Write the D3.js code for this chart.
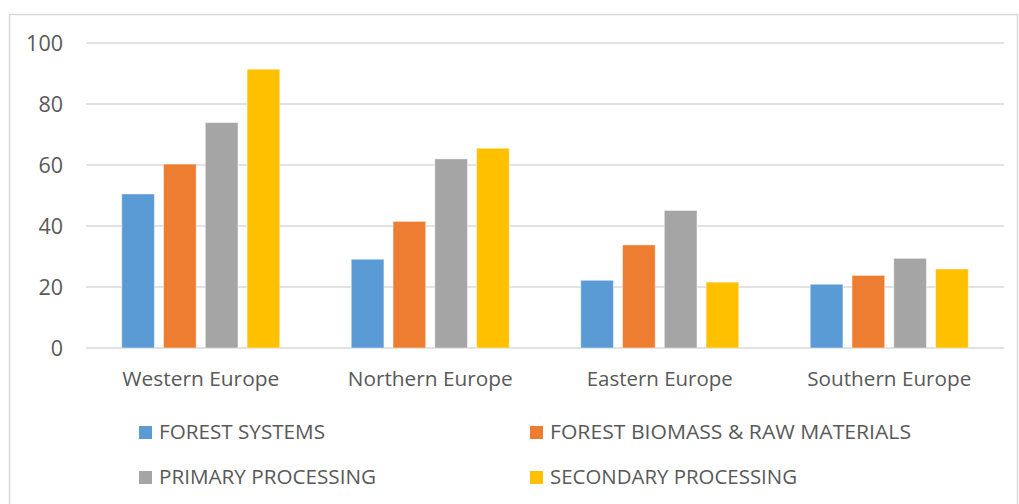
<!DOCTYPE html>
<html>
<head>
<meta charset="utf-8">
<script src="https://cdn.jsdelivr.net/npm/d3@7"></script>
<style>
  html, body { margin: 0; padding: 0; background: #fff; }
  svg { display: block; }
  text { font-family: "Open Sans", "Noto Sans", sans-serif; fill: #595959; }
</style>
</head>
<body>
<svg id="chart" width="1019" height="504"></svg>
<script>
// Regions along the x axis
const regions = ["Western Europe", "Northern Europe", "Eastern Europe", "Southern Europe"];

// Series names (legend order) and colours
const seriesNames = ["FOREST SYSTEMS", "FOREST BIOMASS & RAW MATERIALS", "PRIMARY PROCESSING", "SECONDARY PROCESSING"];
const seriesColors = ["#5B9BD5", "#ED7D31", "#A5A5A5", "#FFC000"];

// Values per series, one entry per region
const forestSystems = [50.5, 29.1, 22.2, 20.9];
const forestBiomass = [60.3, 41.5, 33.8, 23.8];
const primaryProcessing = [73.9, 62.0, 45.1, 29.4];
const secondaryProcessing = [91.4, 65.5, 21.6, 25.9];

// Y axis ticks
const yTicks = [0, 20, 40, 60, 80, 100];

const seriesValues = [forestSystems, forestBiomass, primaryProcessing, secondaryProcessing];

const svg = d3.select("#chart");

// Outer chart frame
svg.append("rect")
  .attr("x", 9.5).attr("y", 14.5)
  .attr("width", 1008).attr("height", 500)
  .attr("fill", "none")
  .attr("stroke", "#D9D9D9")
  .attr("stroke-width", 1.5);

const plotLeft = 86, plotRight = 1004, plotTop = 43, plotBottom = 348;

const x = d3.scaleBand().domain(regions).range([plotLeft, plotRight]).padding(0);
const groupWidth = 158;
const xInner = d3.scaleBand().domain(d3.range(seriesNames.length))
  .range([-groupWidth / 2, groupWidth / 2]).paddingInner(0.218).paddingOuter(0);
const y = d3.scaleLinear().domain([0, 100]).range([plotBottom, plotTop]);

// Horizontal gridlines (including the baseline)
svg.append("g")
  .selectAll("line")
  .data(yTicks)
  .join("line")
  .attr("x1", plotLeft).attr("x2", plotRight)
  .attr("y1", d => y(d)).attr("y2", d => y(d))
  .attr("stroke", "#D9D9D9")
  .attr("stroke-width", 1.5);

// Y tick labels
svg.append("g")
  .selectAll("text")
  .data(yTicks)
  .join("text")
  .attr("x", 63)
  .attr("y", d => y(d) + 7.8)
  .attr("text-anchor", "end")
  .attr("font-size", 21.5)
  .text(d => d);

// Bars
const groups = svg.append("g")
  .selectAll("g")
  .data(regions)
  .join("g")
  .attr("transform", d => `translate(${x(d) + x.bandwidth() / 2},0)`);

groups.selectAll("rect")
  .data((d, i) => seriesValues.map((vals, s) => ({ s, v: vals[i] })))
  .join("rect")
  .attr("x", d => xInner(d.s))
  .attr("width", xInner.bandwidth())
  .attr("y", d => y(d.v))
  .attr("height", d => y(0) - y(d.v))
  .attr("fill", d => seriesColors[d.s])
  .attr("stroke", "#fff")
  .attr("stroke-opacity", 0.45)
  .attr("stroke-width", 1);

// Category labels
const catWidths = [157, 165, 146, 164];
svg.append("g")
  .selectAll("text")
  .data(regions)
  .join("text")
  .attr("x", d => x(d) + x.bandwidth() / 2)
  .attr("y", 386)
  .attr("text-anchor", "middle")
  .attr("font-size", 20)
  .attr("textLength", (d, i) => catWidths[i])
  .attr("lengthAdjust", "spacingAndGlyphs")
  .text(d => d);

// Legend, two columns by two rows
const legendPos = [
  { x: 139, y: 439 }, { x: 530, y: 439 },
  { x: 139, y: 484 }, { x: 530, y: 484 }
];
const legendTextWidths = [166, 361, 217, 247];
const legend = svg.append("g")
  .selectAll("g")
  .data(seriesNames)
  .join("g")
  .attr("transform", (d, i) => `translate(${legendPos[i].x},${legendPos[i].y})`);

legend.append("rect")
  .attr("x", 0).attr("y", -13)
  .attr("width", 13).attr("height", 13)
  .attr("fill", (d, i) => seriesColors[i]);

legend.append("text")
  .attr("x", 20).attr("y", 0)
  .attr("font-size", 19.5)
  .attr("textLength", (d, i) => legendTextWidths[i])
  .attr("lengthAdjust", "spacingAndGlyphs")
  .text(d => d);
</script>
</body>
</html>
